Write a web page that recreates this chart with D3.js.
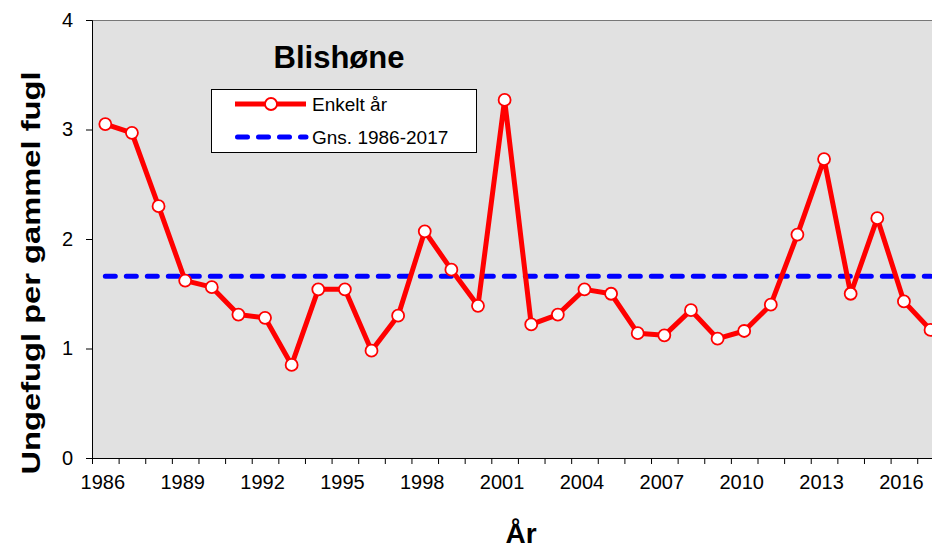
<!DOCTYPE html>
<html>
<head>
<meta charset="utf-8">
<script src="https://cdn.jsdelivr.net/npm/d3@7"></script>
<style>
  body { margin: 0; background: #fff; }
  svg { display: block; font-family: "Liberation Sans", Arial, sans-serif; }
  .axis path, .axis line { stroke: #000; }
  .axis text { font-size: 20px; fill: #000; }
</style>
</head>
<body>
<div id="chart"></div>
<script>
var width = 932,
    height = 548;

// data
var years = d3.range(1986, 2018);
var values = [3.05, 2.97, 2.30, 1.62, 1.56, 1.31, 1.28, 0.85, 1.54, 1.54,
              0.98, 1.30, 2.07, 1.72, 1.39, 3.27, 1.22, 1.31, 1.54, 1.50,
              1.14, 1.12, 1.35, 1.09, 1.16, 1.40, 2.04, 2.73, 1.50, 2.19,
              1.43, 1.17];
var meanValue = 1.66;
var yTicks = [0, 1, 2, 3, 4];
var xLabels = [1986, 1989, 1992, 1995, 1998, 2001, 2004, 2007, 2010, 2013, 2016];
var legendLabels = ["Enkelt år", "Gns. 1986-2017"];

var plotLeft = 92, plotTop = 20, plotBottom = 458,
    step = 26.62,
    plotRight = plotLeft + years.length * step; // plot runs past the picture edge

var svg = d3.select("#chart").append("svg")
    .attr("width", width)
    .attr("height", height);

// year boundaries -> pixels, points sit in the middle of each year
var x = d3.scaleLinear()
    .domain([1986, 1986 + years.length])
    .range([plotLeft, plotRight]);

var y = d3.scaleLinear()
    .domain([0, 4])
    .range([plotBottom, plotTop]);

// plot background
svg.append("rect")
    .attr("x", plotLeft).attr("y", plotTop)
    .attr("width", plotRight - plotLeft).attr("height", plotBottom - plotTop)
    .attr("fill", "#e1e1e1");

svg.append("line")
    .attr("x1", plotLeft).attr("x2", plotRight)
    .attr("y1", plotTop + 0.5).attr("y2", plotTop + 0.5)
    .attr("stroke", "#777").attr("stroke-width", 1);

// y axis
svg.append("g")
    .attr("class", "axis")
    .attr("transform", "translate(" + plotLeft + ",0)")
    .call(d3.axisLeft(y).tickValues(yTicks).tickSize(6).tickPadding(13).tickFormat(d3.format("d")))
    .call(function(g) { g.select(".domain").attr("stroke", "#555"); });

// x axis: tick marks at year boundaries
svg.append("g")
    .attr("class", "axis")
    .attr("transform", "translate(0," + plotBottom + ")")
    .call(d3.axisBottom(x).tickValues(d3.range(1986, 1987 + years.length)).tickSize(6).tickSizeOuter(0).tickFormat(""));

// x labels centred on the years (a touch left, like the original)
svg.append("g")
    .attr("class", "axis")
    .attr("transform", "translate(-3," + plotBottom + ")")
    .call(d3.axisBottom(x).tickValues(xLabels.map(function(d) { return d + 0.5; }))
      .tickSize(0).tickPadding(17).tickFormat(function(d) { return Math.floor(d); }))
    .call(function(g) { g.select(".domain").remove(); });

// mean line
svg.append("line")
    .attr("x1", x(years[0] + 0.5)).attr("x2", x(years[years.length - 1] + 0.5))
    .attr("y1", y(meanValue)).attr("y2", y(meanValue))
    .attr("stroke", "#0000ff").attr("stroke-width", 5)
    .attr("stroke-dasharray", "10,11").attr("stroke-linecap", "round");

// yearly series
var line = d3.line()
    .x(function(d, i) { return x(years[i] + 0.5); })
    .y(function(d) { return y(d); });

svg.append("path")
    .datum(values)
    .attr("d", line)
    .attr("fill", "none")
    .attr("stroke", "#ff0000")
    .attr("stroke-width", 5)
    .attr("stroke-linejoin", "round");

svg.append("g")
  .selectAll("circle")
    .data(values)
  .enter().append("circle")
    .attr("cx", function(d, i) { return x(years[i] + 0.5); })
    .attr("cy", function(d) { return y(d); })
    .attr("r", 6)
    .attr("fill", "#fff")
    .attr("stroke", "#ff0000")
    .attr("stroke-width", 1.8);

// title
svg.append("text")
    .attr("x", 339).attr("y", 68)
    .attr("text-anchor", "middle")
    .style("font-size", "31px").style("font-weight", "bold")
    .text("Blishøne");

// legend
var legend = svg.append("g").attr("transform", "translate(211,89)");
legend.append("rect")
    .attr("x", 0.5).attr("y", 0.5)
    .attr("width", 265).attr("height", 63)
    .attr("fill", "#fff").attr("stroke", "#000");
legend.append("line")
    .attr("x1", 24).attr("x2", 95).attr("y1", 15).attr("y2", 15)
    .attr("stroke", "#ff0000").attr("stroke-width", 5);
legend.append("circle")
    .attr("cx", 60).attr("cy", 15).attr("r", 6)
    .attr("fill", "#fff").attr("stroke", "#ff0000").attr("stroke-width", 1.8);
legend.append("line")
    .attr("x1", 26.5).attr("x2", 95).attr("y1", 48).attr("y2", 48)
    .attr("stroke", "#0000ff").attr("stroke-width", 5)
    .attr("stroke-dasharray", "10,11").attr("stroke-linecap", "round");
legend.selectAll("text.lab")
    .data(legendLabels)
  .enter().append("text")
    .attr("class", "lab")
    .attr("x", 101)
    .attr("y", function(d, i) { return 22 + i * 33; })
    .style("font-size", "19px")
    .text(function(d) { return d; });

// axis titles
svg.append("text")
    .attr("transform", "translate(40,273) rotate(-90)")
    .attr("text-anchor", "middle")
    .attr("textLength", 403).attr("lengthAdjust", "spacingAndGlyphs")
    .style("font-size", "25px").style("font-weight", "bold")
    .text("Ungefugl per gammel fugl");

svg.append("text")
    .attr("x", 521).attr("y", 543)
    .attr("text-anchor", "middle")
    .style("font-size", "28px").style("font-weight", "bold")
    .text("År");
</script>
</body>
</html>
